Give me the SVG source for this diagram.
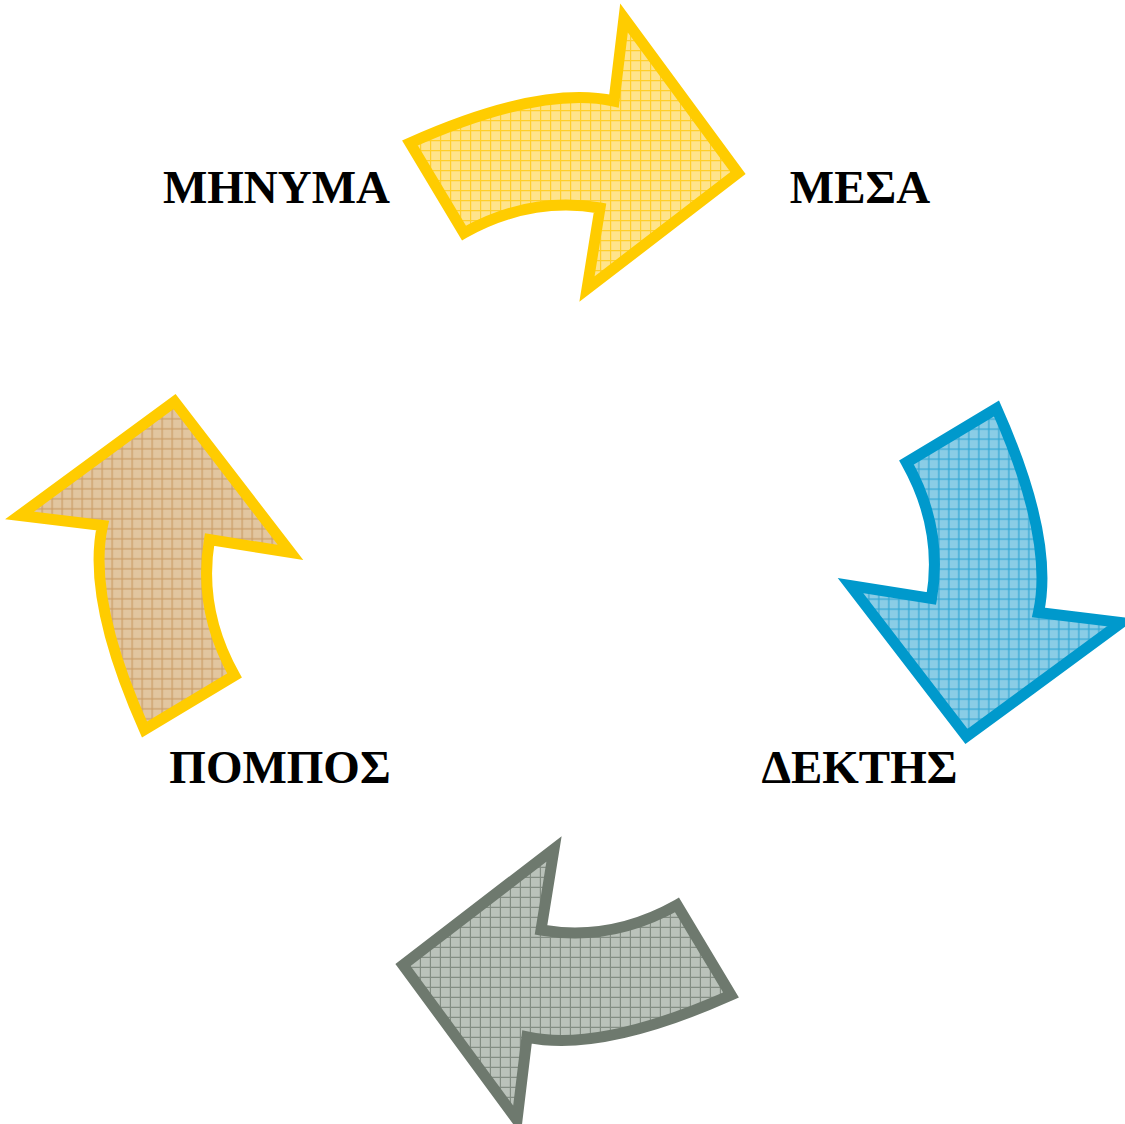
<svg xmlns="http://www.w3.org/2000/svg" width="1125" height="1124" viewBox="0 0 1125 1124">
  <defs>
    <!-- small-grid fills, one per arrow colour -->
    <pattern id="grid-gold" patternUnits="userSpaceOnUse" width="10" height="10">
      <rect width="10" height="10" fill="#FFE48C"/>
      <path d="M0.6 0V10M0 0.6H10" stroke="#FFCF2A" stroke-width="1.2" fill="none"/>
    </pattern>
    <pattern id="grid-blue" patternUnits="userSpaceOnUse" width="10" height="10">
      <rect width="10" height="10" fill="#8ACDE6"/>
      <path d="M0.6 0V10M0 0.6H10" stroke="#35A7D3" stroke-width="1.2" fill="none"/>
    </pattern>
    <pattern id="grid-grey" patternUnits="userSpaceOnUse" width="10" height="10">
      <rect width="10" height="10" fill="#BAC2BA"/>
      <path d="M0.6 0V10M0 0.6H10" stroke="#838D83" stroke-width="1.2" fill="none"/>
    </pattern>
    <pattern id="grid-tan" patternUnits="userSpaceOnUse" width="10" height="10">
      <rect width="10" height="10" fill="#E2C6A0"/>
      <path d="M0.6 0V10M0 0.6H10" stroke="#CB9E68" stroke-width="1.2" fill="none"/>
    </pattern>
    <!-- one curved arrow; the other three are quarter turns of it -->
    <path id="curved-arrow" d="M410 143 Q540 85 614 101 L624 18 L738 173 L587 289 L600 208 Q530 196 464 233 Z"/>
  </defs>
  <style>
    .arrow { stroke-width: 11; stroke-linejoin: miter; stroke-miterlimit: 6; }
    .label { font-family: "Liberation Serif", "Times New Roman", serif; font-weight: bold; font-size: 47px; fill: #000; text-anchor: middle; }
  </style>

  <rect width="1125" height="1124" fill="#FFFFFF"/>

  <g id="connectors">
    <use href="#curved-arrow" class="arrow" fill="url(#grid-gold)" stroke="#FFCC00"/>
    <use href="#curved-arrow" class="arrow" fill="url(#grid-blue)" stroke="#0099CC" transform="rotate(90 570.5 569)"/>
    <use href="#curved-arrow" class="arrow" fill="url(#grid-grey)" stroke="#6E796E" transform="rotate(180 570.5 569)"/>
    <use href="#curved-arrow" class="arrow" fill="url(#grid-tan)" stroke="#FFCC00" transform="rotate(270 570.5 569)"/>
  </g>

  <g id="node-minima">
    <text class="label" x="276.5" y="203">ΜΗΝΥΜΑ</text>
  </g>
  <g id="node-mesa">
    <text class="label" x="860" y="203">ΜΕΣΑ</text>
  </g>
  <g id="node-dektis">
    <text class="label" x="859.5" y="783">ΔΕΚΤΗΣ</text>
  </g>
  <g id="node-pompos">
    <text class="label" x="280" y="783">ΠΟΜΠΟΣ</text>
  </g>
</svg>
